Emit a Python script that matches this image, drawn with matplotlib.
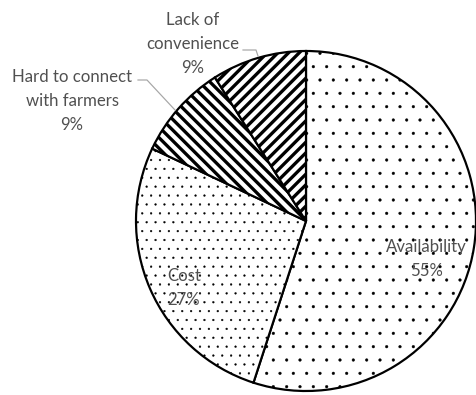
import matplotlib
matplotlib.use("Agg")
import matplotlib.pyplot as plt

categories = ["Availability", "Cost", "Hard to connect\nwith farmers", "Lack of\nconvenience"]
values = [55, 27, 9, 9]
hatches = ["..", "...", "\\\\\\\\\\", "/////"]

W, H = 476, 395
DPI = 160
def pt(px):
    return px * 72.0 / DPI

hatch_lw = [pt(0.4), pt(0.4), pt(3.3), pt(3.3)]
plt.rcParams['hatch.linewidth'] = pt(3.3)
plt.rcParams['hatch.color'] = 'black'
plt.rcParams['font.family'] = ['Lato', 'DejaVu Sans']

fig = plt.figure(figsize=(W / DPI, H / DPI), dpi=DPI)
ax = fig.add_axes([0, 0, 1, 1])

cx, cy, r = 306, H - 221, 170
wedges, _ = ax.pie(values, startangle=90, counterclock=False, center=(cx, cy), radius=r,
                   frame=True, wedgeprops=dict(facecolor='white', edgecolor='black', linewidth=pt(2.2)))
for w, h, hl in zip(wedges, hatches, hatch_lw):
    w.set_hatch(h)
    try:
        w.set_hatch_linewidth(hl)
    except Exception:
        pass

ax.set_xlim(0, W)
ax.set_ylim(0, H)
ax.set_aspect('equal')
ax.axis('off')

tc = '#505050'
fs = pt(16.8)
def lab(x, y, i):
    ax.text(x, H - y, f"{categories[i]}\n{values[i]}%", ha='center', va='center',
            fontsize=fs, color=tc, linespacing=1.6)

lab(426, 259, 0)
lab(184, 288, 1)
lab(72, 101, 2)
lab(193, 44, 3)

ax.plot([138, 147, 175], [H - 80, H - 80, H - 110], color='#a6a6a6', lw=pt(1.2))
ax.plot([243, 256, 258], [H - 50, H - 50, H - 56], color='#a6a6a6', lw=pt(1.2))

fig.savefig("out.png", dpi=DPI)
